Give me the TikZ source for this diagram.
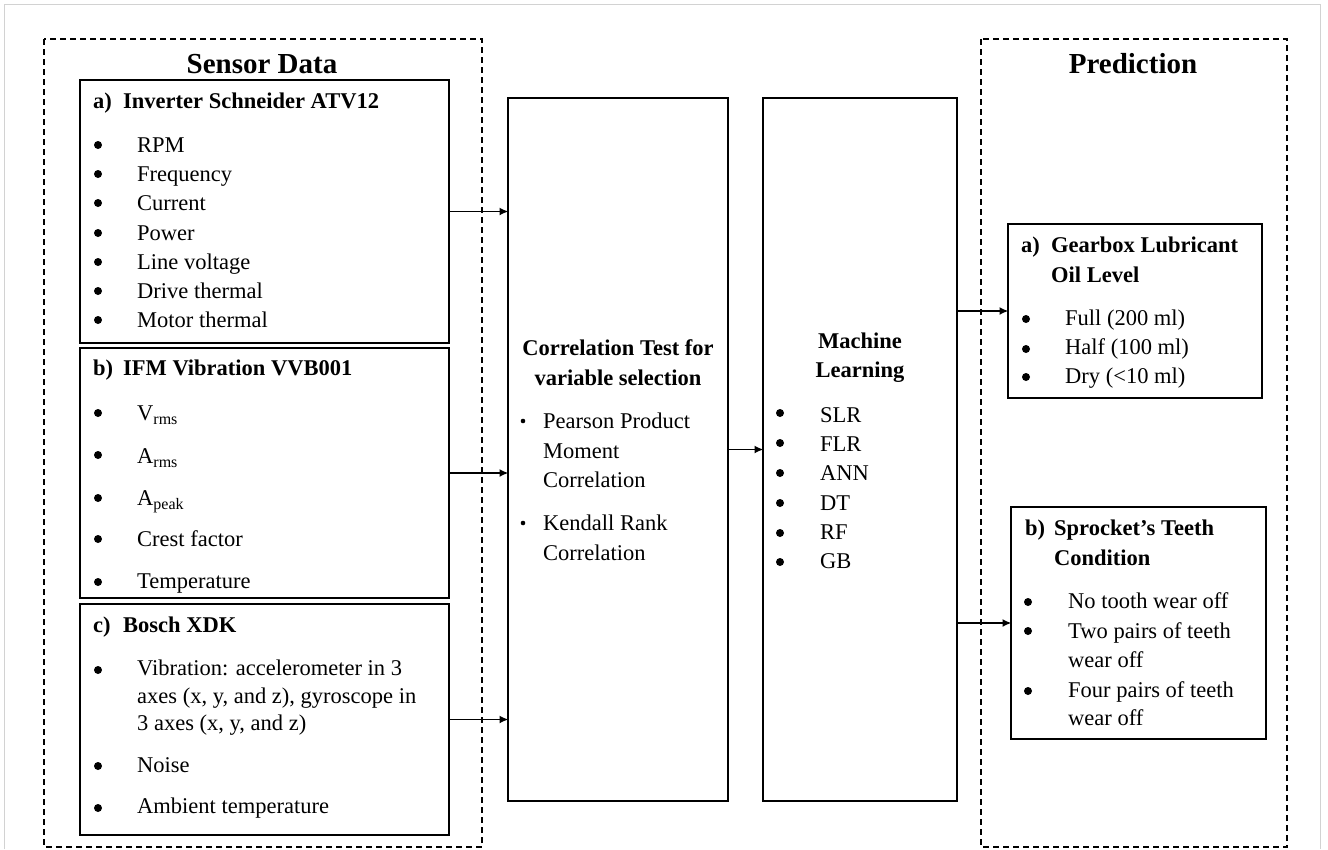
\documentclass[tikz,border=0pt]{standalone}
\usepackage{fontspec}
\setmainfont{Liberation Serif}
\usetikzlibrary{arrows.meta}
\newcommand\fs{\fontsize{22.5pt}{27pt}\selectfont}
\newcommand\ttl{\fontsize{29pt}{34pt}\selectfont\bfseries}
\newcommand\sub[1]{\raisebox{-4.5pt}{\fontsize{16pt}{16pt}\selectfont #1}}
\newcommand\bl[2]{\fill (#1,#2) circle (4pt);}
\newcommand\sbl[2]{\fill (#1,#2) circle (2.3pt);}
\tikzset{
  box/.style={draw, line width=2pt, inner sep=0pt, outer sep=0pt, anchor=north west},
  frame/.style={draw, line width=1.6pt, dash pattern=on 6pt off 4pt},
  txt/.style={anchor=base west, inner sep=0pt, font=\fs},
  btxt/.style={anchor=base west, inner sep=0pt, font=\fs\bfseries},
  ctxt/.style={anchor=base, inner sep=0pt, font=\fs\bfseries},
  head/.style={anchor=base, inner sep=0pt, font=\ttl},
  arr/.style={-{Latex[length=9pt,width=8pt]}, line width=1.8pt, shorten >=-0.5pt},
}
\begin{document}
\begin{tikzpicture}[x=1pt,y=-1pt]
\useasboundingbox (0,0) rectangle (1328,849);
\fill[white] (0,0) rectangle (1328,849);
\draw[gray!35, line width=1pt] (4,849) -- (4,4) -- (1320,4) -- (1320,849);

% dashed frames
\draw[frame] (44,39) rectangle (482,847);
\draw[frame] (981,39) rectangle (1287,847);
\node[head] (sd) at (262,73) {Sensor Data};
\node[head] (pr) at (1133,73) {Prediction};

% boxes
\node[box, minimum width=369pt, minimum height=263pt] (ba) at (80,80) {};
\node[box, minimum width=369pt, minimum height=250pt] (bb) at (80,348) {};
\node[box, minimum width=369pt, minimum height=231pt] (bc) at (80,604) {};
\node[box, minimum width=220pt, minimum height=703pt] (corr) at (508,98) {};
\node[box, minimum width=194pt, minimum height=703pt] (ml) at (763,98) {};
\node[box, minimum width=254pt, minimum height=174pt] (pa) at (1008,224) {};
\node[box, minimum width=255pt, minimum height=232pt] (pb) at (1011,507) {};

% box a
\node[btxt] (ala) at (93,108) {a)};
\node[btxt] (alt) at (123,108) {Inverter Schneider ATV12};
\node[txt] (a1) at (137,152) {RPM};
\node[txt] (a2) at (137,181) {Frequency};
\node[txt] (a3) at (137,210) {Current};
\node[txt] (a4) at (137,240) {Power};
\node[txt] (a5) at (137,269) {Line voltage};
\node[txt] (a6) at (137,298) {Drive thermal};
\node[txt] (a7) at (137,327) {Motor thermal};
\bl{98}{145}\bl{98}{174}\bl{98}{203}\bl{98}{233}\bl{98}{262}\bl{98}{291}\bl{98}{320}

% box b
\node[btxt] (blb) at (93,375) {b)};
\node[btxt] (blt) at (123,375) {IFM Vibration VVB001};
\node[txt] (b1) at (137,420) {V\sub{rms}};
\node[txt] (b2) at (137,463) {A\sub{rms}};
\node[txt] (b3) at (137,505) {A\sub{peak}};
\node[txt] (b4) at (137,546) {Crest factor};
\node[txt] (b5) at (137,588) {Temperature};
\bl{98}{413}\bl{98}{455}\bl{98}{498}\bl{98}{539}\bl{98}{582}

% box c
\node[btxt] (clc) at (93,632) {c)};
\node[btxt] (clt) at (123,632) {Bosch XDK};
\node[txt] (c1) at (137,675) {Vibration: accelerometer in 3};
\node[txt] (c2) at (137,703) {axes (x, y, and z), gyroscope in};
\node[txt] (c3) at (137,730) {3 axes (x, y, and z)};
\node[txt] (c4) at (137,772) {Noise};
\node[txt] (c5) at (137,813) {Ambient temperature};
\bl{98}{670}\bl{98}{766}\bl{98}{808}

% correlation
\node[ctxt] (ct1) at (618,355) {Correlation Test for};
\node[ctxt] (ct2) at (618,385) {variable selection};
\node[txt] (k1) at (543,428) {Pearson Product};
\node[txt] (k2) at (543,458) {Moment};
\node[txt] (k3) at (543,487) {Correlation};
\node[txt] (k4) at (543,530) {Kendall Rank};
\node[txt] (k5) at (543,560) {Correlation};
\sbl{523}{421}\sbl{523}{523}

% machine learning
\node[ctxt] (m1) at (860,348) {Machine};
\node[ctxt] (m2) at (860,377) {Learning};
\node[txt] (l1) at (820,422) {SLR};
\node[txt] (l2) at (820,451) {FLR};
\node[txt] (l3) at (820,480) {ANN};
\node[txt] (l4) at (820,510) {DT};
\node[txt] (l5) at (820,539) {RF};
\node[txt] (l6) at (820,568) {GB};
\bl{780}{413}\bl{780}{443}\bl{780}{473}\bl{780}{503}\bl{780}{533}\bl{780}{562}

% prediction a
\node[btxt] (pal) at (1021,252) {a)};
\node[btxt] (pat1) at (1051,252) {Gearbox Lubricant};
\node[btxt] (pat2) at (1051,282) {Oil Level};
\node[txt] (p1) at (1065,325) {Full (200 ml)};
\node[txt] (p2) at (1065,354) {Half (100 ml)};
\node[txt] (p3) at (1065,383) {Dry (<10 ml)};
\bl{1026}{319}\bl{1026}{349}\bl{1026}{377}

% prediction b
\node[btxt] (pbl) at (1025,535) {b)};
\node[btxt] (pbt1) at (1054,535) {Sprocket’s Teeth};
\node[btxt] (pbt2) at (1054,565) {Condition};
\node[txt] (q1) at (1068,608) {No tooth wear off};
\node[txt] (q2) at (1068,638) {Two pairs of teeth};
\node[txt] (q3) at (1068,667) {wear off};
\node[txt] (q4) at (1068,697) {Four pairs of teeth};
\node[txt] (q5) at (1068,725) {wear off};
\bl{1028}{602}\bl{1028}{631}\bl{1028}{691}

% connectors
\draw[arr] (ba.east) -- (ba.east -| corr.west);
\draw[arr] (bb.east) -- (bb.east -| corr.west);
\draw[arr] (bc.east) -- (bc.east -| corr.west);
\draw[arr] (corr.east) -- (corr.east -| ml.west);
\draw[arr] (pa.west -| ml.east) -- (pa.west);
\draw[arr] (pb.west -| ml.east) -- (pb.west);
\end{tikzpicture}
\end{document}
